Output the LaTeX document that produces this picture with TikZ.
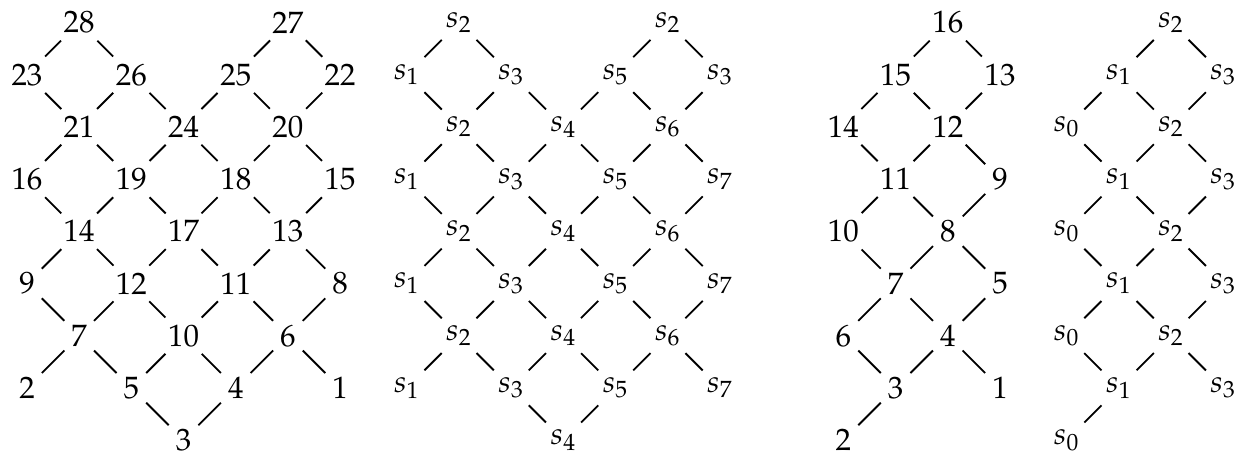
\documentclass[tikz,border=0pt]{standalone}
\usepackage[T1]{fontenc}
\usepackage{mathpazo}
\usepackage{tikz}

\begin{document}
\begin{tikzpicture}[
    x=0.593cm, y=-0.593cm,
    semithick,
    % Node Styles
    num/.style={inner sep=2pt},
    refl/.style={inner sep=2pt},
    link/.style={draw=black}
]
\useasboundingbox (0,0) rectangle (23.72,8.66);

% --- 1. First Lattice (Numbers) ---
\begin{scope}[shift={(0.517,0.431)}]
\node[num] (a28) at (1,0) {28};
\node[num] (a27) at (5,0) {27};
\node[num] (a23) at (0,1) {23};
\node[num] (a26) at (2,1) {26};
\node[num] (a25) at (4,1) {25};
\node[num] (a22) at (6,1) {22};
\node[num] (a21) at (1,2) {21};
\node[num] (a24) at (3,2) {24};
\node[num] (a20) at (5,2) {20};
\node[num] (a16) at (0,3) {16};
\node[num] (a19) at (2,3) {19};
\node[num] (a18) at (4,3) {18};
\node[num] (a15) at (6,3) {15};
\node[num] (a14) at (1,4) {14};
\node[num] (a17) at (3,4) {17};
\node[num] (a13) at (5,4) {13};
\node[num] (a9) at (0,5) {9};
\node[num] (a12) at (2,5) {12};
\node[num] (a11) at (4,5) {11};
\node[num] (a8) at (6,5) {8};
\node[num] (a7) at (1,6) {7};
\node[num] (a10) at (3,6) {10};
\node[num] (a6) at (5,6) {6};
\node[num] (a2) at (0,7) {2};
\node[num] (a5) at (2,7) {5};
\node[num] (a4) at (4,7) {4};
\node[num] (a1) at (6,7) {1};
\node[num] (a3) at (3,8) {3};
\end{scope}

% --- 2. Second Lattice (Reflections) ---
\begin{scope}[shift={(7.797,0.431)}]
\node[refl] (b28) at (1,0) {$s_2$};
\node[refl] (b27) at (5,0) {$s_2$};
\node[refl] (b23) at (0,1) {$s_1$};
\node[refl] (b26) at (2,1) {$s_3$};
\node[refl] (b25) at (4,1) {$s_5$};
\node[refl] (b22) at (6,1) {$s_3$};
\node[refl] (b21) at (1,2) {$s_2$};
\node[refl] (b24) at (3,2) {$s_4$};
\node[refl] (b20) at (5,2) {$s_6$};
\node[refl] (b16) at (0,3) {$s_1$};
\node[refl] (b19) at (2,3) {$s_3$};
\node[refl] (b18) at (4,3) {$s_5$};
\node[refl] (b15) at (6,3) {$s_7$};
\node[refl] (b14) at (1,4) {$s_2$};
\node[refl] (b17) at (3,4) {$s_4$};
\node[refl] (b13) at (5,4) {$s_6$};
\node[refl] (b9) at (0,5) {$s_1$};
\node[refl] (b12) at (2,5) {$s_3$};
\node[refl] (b11) at (4,5) {$s_5$};
\node[refl] (b8) at (6,5) {$s_7$};
\node[refl] (b7) at (1,6) {$s_2$};
\node[refl] (b10) at (3,6) {$s_4$};
\node[refl] (b6) at (5,6) {$s_6$};
\node[refl] (b2) at (0,7) {$s_1$};
\node[refl] (b5) at (2,7) {$s_3$};
\node[refl] (b4) at (4,7) {$s_5$};
\node[refl] (b1) at (6,7) {$s_7$};
\node[refl] (b3) at (3,8) {$s_4$};
\end{scope}

% --- 3. Third Lattice (Numbers) ---
\begin{scope}[shift={(16.16,0.431)}]
\node[num] (c16) at (2,0) {16};
\node[num] (c15) at (1,1) {15};
\node[num] (c13) at (3,1) {13};
\node[num] (c14) at (0,2) {14};
\node[num] (c12) at (2,2) {12};
\node[num] (c11) at (1,3) {11};
\node[num] (c9) at (3,3) {9};
\node[num] (c10) at (0,4) {10};
\node[num] (c8) at (2,4) {8};
\node[num] (c7) at (1,5) {7};
\node[num] (c5) at (3,5) {5};
\node[num] (c6) at (0,6) {6};
\node[num] (c4) at (2,6) {4};
\node[num] (c3) at (1,7) {3};
\node[num] (c1) at (3,7) {1};
\node[num] (c2) at (0,8) {2};
\end{scope}

% --- 4. Fourth Lattice (Reflections) ---
\begin{scope}[shift={(20.44,0.431)}]
\node[refl] (d16) at (2,0) {$s_2$};
\node[refl] (d15) at (1,1) {$s_1$};
\node[refl] (d13) at (3,1) {$s_3$};
\node[refl] (d14) at (0,2) {$s_0$};
\node[refl] (d12) at (2,2) {$s_2$};
\node[refl] (d11) at (1,3) {$s_1$};
\node[refl] (d9) at (3,3) {$s_3$};
\node[refl] (d10) at (0,4) {$s_0$};
\node[refl] (d8) at (2,4) {$s_2$};
\node[refl] (d7) at (1,5) {$s_1$};
\node[refl] (d5) at (3,5) {$s_3$};
\node[refl] (d6) at (0,6) {$s_0$};
\node[refl] (d4) at (2,6) {$s_2$};
\node[refl] (d3) at (1,7) {$s_1$};
\node[refl] (d1) at (3,7) {$s_3$};
\node[refl] (d2) at (0,8) {$s_0$};
\end{scope}

% --- Edges ---
% First lattice, falling to the right
\draw[link] (a28) -- (a26) -- (a24) -- (a18) -- (a13) -- (a8);
\draw[link] (a23) -- (a21) -- (a19) -- (a17) -- (a11) -- (a6) -- (a1);
\draw[link] (a27) -- (a22);
\draw[link] (a25) -- (a20) -- (a15);
\draw[link] (a16) -- (a14) -- (a12) -- (a10) -- (a4);
\draw[link] (a9) -- (a7) -- (a5) -- (a3);
% First lattice, falling to the left
\draw[link] (a28) -- (a23);
\draw[link] (a26) -- (a21) -- (a16);
\draw[link] (a27) -- (a25) -- (a24) -- (a19) -- (a14) -- (a9);
\draw[link] (a22) -- (a20) -- (a18) -- (a17) -- (a12) -- (a7) -- (a2);
\draw[link] (a15) -- (a13) -- (a11) -- (a10) -- (a5);
\draw[link] (a8) -- (a6) -- (a4) -- (a3);

% Second lattice
\draw[link] (b28) -- (b26) -- (b24) -- (b18) -- (b13) -- (b8);
\draw[link] (b23) -- (b21) -- (b19) -- (b17) -- (b11) -- (b6) -- (b1);
\draw[link] (b27) -- (b22);
\draw[link] (b25) -- (b20) -- (b15);
\draw[link] (b16) -- (b14) -- (b12) -- (b10) -- (b4);
\draw[link] (b9) -- (b7) -- (b5) -- (b3);
\draw[link] (b28) -- (b23);
\draw[link] (b26) -- (b21) -- (b16);
\draw[link] (b27) -- (b25) -- (b24) -- (b19) -- (b14) -- (b9);
\draw[link] (b22) -- (b20) -- (b18) -- (b17) -- (b12) -- (b7) -- (b2);
\draw[link] (b15) -- (b13) -- (b11) -- (b10) -- (b5);
\draw[link] (b8) -- (b6) -- (b4) -- (b3);

% Third lattice
\draw[link] (c16) -- (c13);
\draw[link] (c15) -- (c12) -- (c9);
\draw[link] (c14) -- (c11) -- (c8) -- (c5);
\draw[link] (c10) -- (c7) -- (c4) -- (c1);
\draw[link] (c6) -- (c3);
\draw[link] (c16) -- (c15) -- (c14);
\draw[link] (c13) -- (c12) -- (c11) -- (c10);
\draw[link] (c9) -- (c8) -- (c7) -- (c6);
\draw[link] (c5) -- (c4) -- (c3) -- (c2);

% Fourth lattice
\draw[link] (d16) -- (d13);
\draw[link] (d15) -- (d12) -- (d9);
\draw[link] (d14) -- (d11) -- (d8) -- (d5);
\draw[link] (d10) -- (d7) -- (d4) -- (d1);
\draw[link] (d6) -- (d3);
\draw[link] (d16) -- (d15) -- (d14);
\draw[link] (d13) -- (d12) -- (d11) -- (d10);
\draw[link] (d9) -- (d8) -- (d7) -- (d6);
\draw[link] (d5) -- (d4) -- (d3) -- (d2);

\end{tikzpicture}
\end{document}
